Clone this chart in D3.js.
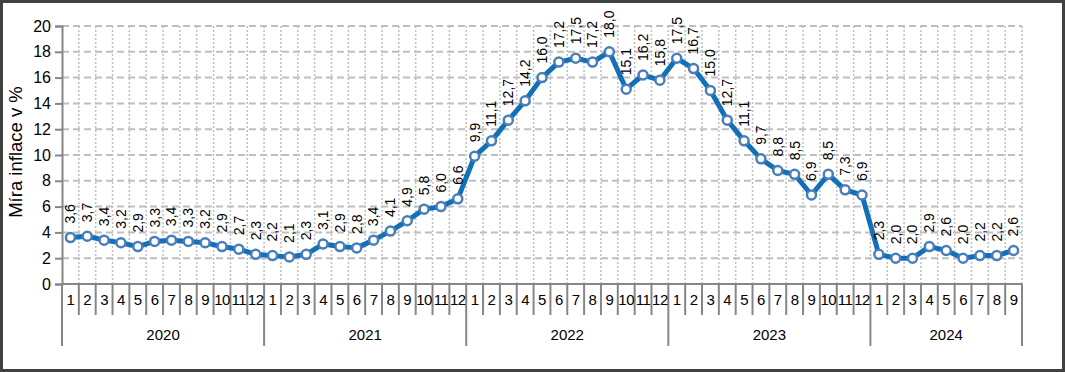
<!DOCTYPE html>
<html>
<head>
<meta charset="utf-8">
<script src="https://cdn.jsdelivr.net/npm/d3@7"></script>
<style>
    body { margin: 0; background: #fff; }
    svg { display: block; font-family: "Liberation Sans", Arial, sans-serif; }
</style>
</head>
<body>
<svg id="chart" width="1065" height="372"></svg>
<script>
// source values, one per month
var years = ['2020', '2021', '2022', '2023', '2024'];
var monthsPerYear = [12, 12, 12, 12, 9];
var inflace = [
    3.6, 3.7, 3.4, 3.2, 2.9, 3.3, 3.4, 3.3, 3.2, 2.9, 2.7, 2.3,
    2.2, 2.1, 2.3, 3.1, 2.9, 2.8, 3.4, 4.1, 4.9, 5.8, 6.0, 6.6,
    9.9, 11.1, 12.7, 14.2, 16.0, 17.2, 17.5, 17.2, 18.0, 15.1, 16.2, 15.8,
    17.5, 16.7, 15.0, 12.7, 11.1, 9.7, 8.8, 8.5, 6.9, 8.5, 7.3, 6.9,
    2.3, 2.0, 2.0, 2.9, 2.6, 2.0, 2.2, 2.2, 2.6
];
var yTicks = [0, 2, 4, 6, 8, 10, 12, 14, 16, 18, 20];
var yTitle = 'Míra inflace v %';

// build the category list (year + month)
var points = [];
years.forEach(function(year, i) {
    for (var m = 1; m <= monthsPerYear[i]; m++) {
        points.push({ year: year, month: m, key: year + '-' + m });
    }
});
points.forEach(function(p, i) { p.value = inflace[i]; });

var svg = d3.select('#chart');
var plotL = 62, plotR = 1022, plotT = 26, plotB = 284;

var x = d3.scaleBand()
    .domain(points.map(function(p) { return p.key; }))
    .range([plotL, plotR])
    .padding(0);
var y = d3.scaleLinear().domain([0, 20]).range([plotB, plotT]);
var bw = x.bandwidth();

var fmt = function(v) { return d3.format('.1f')(v).replace('.', ','); };

// outer frame
svg.append('rect')
    .attr('x', 1.5).attr('y', 1.5)
    .attr('width', 1062).attr('height', 369)
    .attr('fill', 'none')
    .attr('stroke', '#404040')
    .attr('stroke-width', 3);

// vertical dotted gridlines at category boundaries
svg.append('g').selectAll('line')
    .data(points.slice(1))
    .join('line')
    .attr('x1', function(p) { return x(p.key); })
    .attr('x2', function(p) { return x(p.key); })
    .attr('y1', plotT).attr('y2', plotB)
    .attr('stroke', '#bfbfbf')
    .attr('stroke-width', 1.5)
    .attr('stroke-dasharray', '2,2');
svg.append('line')
    .attr('x1', plotR).attr('x2', plotR)
    .attr('y1', plotT).attr('y2', plotB)
    .attr('stroke', '#bfbfbf')
    .attr('stroke-width', 1.5)
    .attr('stroke-dasharray', '2,2');

// horizontal dashed gridlines
svg.append('g').selectAll('line')
    .data(yTicks.slice(1))
    .join('line')
    .attr('x1', plotL).attr('x2', plotR)
    .attr('y1', function(d) { return y(d); })
    .attr('y2', function(d) { return y(d); })
    .attr('stroke', '#bfbfbf')
    .attr('stroke-width', 2)
    .attr('stroke-dasharray', '7,4');

// y axis
var yAxis = svg.append('g')
    .attr('transform', 'translate(' + plotL + ',0)')
    .call(d3.axisLeft(y).tickValues(yTicks).tickSize(7).tickPadding(4));
yAxis.select('.domain').attr('stroke', '#868686').attr('stroke-width', 2);
yAxis.selectAll('.tick line').attr('stroke', '#868686').attr('stroke-width', 2);
yAxis.selectAll('.tick text')
    .attr('font-size', '16px')
    .attr('fill', '#000')
    .attr('font-family', '"Liberation Sans", Arial, sans-serif');

svg.append('text')
    .attr('transform', 'translate(22,' + ((plotT + plotB) / 2 - 3) + ') rotate(-90)')
    .attr('text-anchor', 'middle')
    .attr('font-size', '18.5px')
    .text(yTitle);

// x axis: baseline, month separators, year separators
svg.append('line')
    .attr('x1', plotL).attr('x2', plotR)
    .attr('y1', plotB).attr('y2', plotB)
    .attr('stroke', '#868686').attr('stroke-width', 2);

svg.append('g').selectAll('line')
    .data(points)
    .join('line')
    .attr('x1', function(p) { return x(p.key); })
    .attr('x2', function(p) { return x(p.key); })
    .attr('y1', plotB)
    .attr('y2', function(p) { return p.month === 1 ? 346 : 315; })
    .attr('stroke', '#868686').attr('stroke-width', 2);
svg.append('line')
    .attr('x1', plotR).attr('x2', plotR)
    .attr('y1', plotB).attr('y2', 346)
    .attr('stroke', '#868686').attr('stroke-width', 2);

svg.append('g').selectAll('text')
    .data(points)
    .join('text')
    .attr('x', function(p) { return x(p.key) + bw / 2; })
    .attr('y', 305)
    .attr('text-anchor', 'middle')
    .attr('font-size', '15px')
    .attr('letter-spacing', '-0.5px')
    .text(function(p) { return p.month; });

svg.append('g').selectAll('text')
    .data(years)
    .join('text')
    .attr('x', function(yr, i) {
        var first = x(yr + '-1');
        var last = x(yr + '-' + monthsPerYear[i]) + bw;
        return (first + last) / 2;
    })
    .attr('y', 340)
    .attr('text-anchor', 'middle')
    .attr('font-size', '15px')
    .text(function(yr) { return yr; });

// series line
var line = d3.line()
    .x(function(p) { return x(p.key) + bw / 2; })
    .y(function(p) { return y(p.value); });

svg.append('path')
    .datum(points)
    .attr('d', line)
    .attr('fill', 'none')
    .attr('stroke', '#1170b8')
    .attr('stroke-width', 5)
    .attr('stroke-linejoin', 'round');

svg.append('g').selectAll('circle')
    .data(points)
    .join('circle')
    .attr('cx', function(p) { return x(p.key) + bw / 2; })
    .attr('cy', function(p) { return y(p.value); })
    .attr('r', 4.5)
    .attr('fill', '#fff')
    .attr('stroke', '#4a7ebb')
    .attr('stroke-width', 2.5);

// rotated value labels above points
svg.append('g').selectAll('text')
    .data(points)
    .join('text')
    .attr('transform', function(p) {
        return 'translate(' + (x(p.key) + bw / 2) + ',' + (y(p.value) - 14) + ') rotate(-90)';
    })
    .attr('dy', '0.35em')
    .attr('text-anchor', 'start')
    .attr('font-size', '14px')
    .text(function(p) { return fmt(p.value); });
</script>
</body>
</html>
